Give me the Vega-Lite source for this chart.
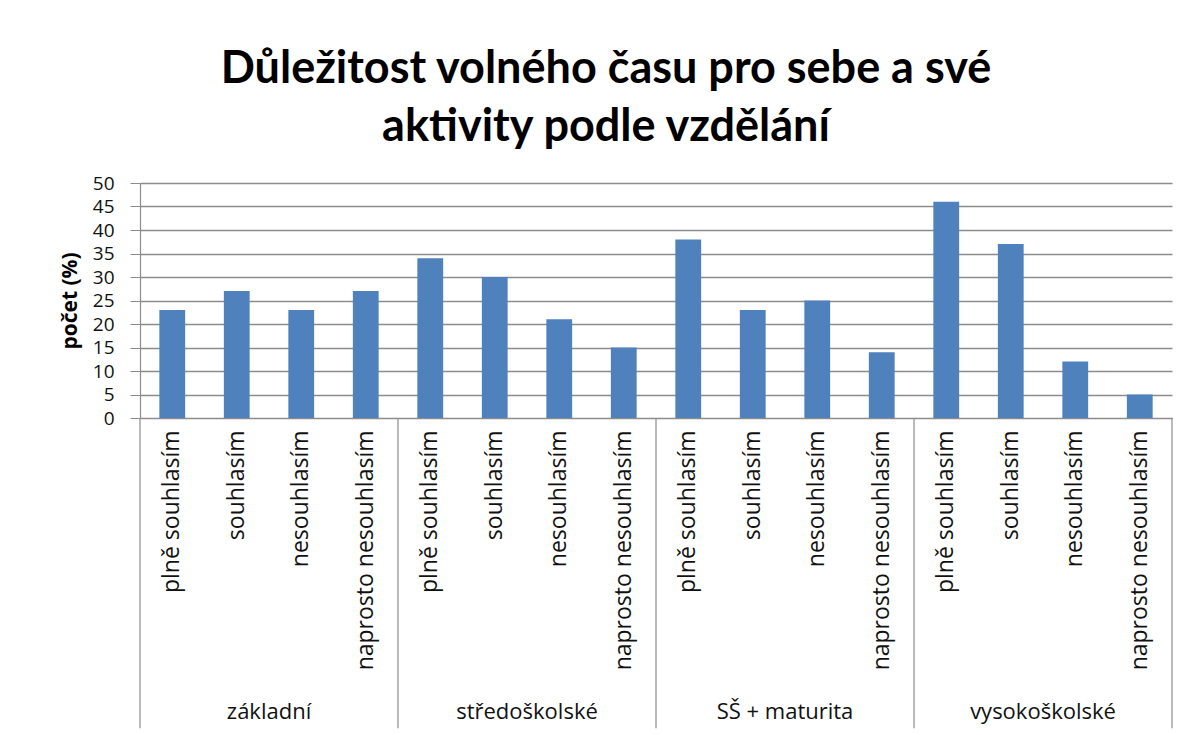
{
  "$schema": "https://vega.github.io/schema/vega-lite/v6.json",
  "width": 1032,
  "height": 235,
  "autosize": {"type": "none"},
  "padding": {"left": 140, "top": 183, "right": 18, "bottom": 317},
  "background": "white",
  "title": {
    "text": ["Důležitost volného času pro sebe a své", "aktivity podle vzdělání"],
    "font": "Lato",
    "fontSize": 45,
    "fontWeight": "bold",
    "lineHeight": 58,
    "color": "#000000",
    "anchor": "middle",
    "dx": -50,
    "offset": 24
  },
  "data": {
    "values": [
      {"key": "základní|plně souhlasím", "group": "základní", "cat": "plně souhlasím", "value": 23},
      {"key": "základní|souhlasím", "group": "základní", "cat": "souhlasím", "value": 27},
      {"key": "základní|nesouhlasím", "group": "základní", "cat": "nesouhlasím", "value": 23},
      {"key": "základní|naprosto nesouhlasím", "group": "základní", "cat": "naprosto nesouhlasím", "value": 27},
      {"key": "středoškolské|plně souhlasím", "group": "středoškolské", "cat": "plně souhlasím", "value": 34},
      {"key": "středoškolské|souhlasím", "group": "středoškolské", "cat": "souhlasím", "value": 30},
      {"key": "středoškolské|nesouhlasím", "group": "středoškolské", "cat": "nesouhlasím", "value": 21},
      {"key": "středoškolské|naprosto nesouhlasím", "group": "středoškolské", "cat": "naprosto nesouhlasím", "value": 15},
      {"key": "SŠ + maturita|plně souhlasím", "group": "SŠ + maturita", "cat": "plně souhlasím", "value": 38},
      {"key": "SŠ + maturita|souhlasím", "group": "SŠ + maturita", "cat": "souhlasím", "value": 23},
      {"key": "SŠ + maturita|nesouhlasím", "group": "SŠ + maturita", "cat": "nesouhlasím", "value": 25},
      {"key": "SŠ + maturita|naprosto nesouhlasím", "group": "SŠ + maturita", "cat": "naprosto nesouhlasím", "value": 14},
      {"key": "vysokoškolské|plně souhlasím", "group": "vysokoškolské", "cat": "plně souhlasím", "value": 46},
      {"key": "vysokoškolské|souhlasím", "group": "vysokoškolské", "cat": "souhlasím", "value": 37},
      {"key": "vysokoškolské|nesouhlasím", "group": "vysokoškolské", "cat": "nesouhlasím", "value": 12},
      {"key": "vysokoškolské|naprosto nesouhlasím", "group": "vysokoškolské", "cat": "naprosto nesouhlasím", "value": 5}
    ]
  },
  "encoding": {
    "x": {
      "field": "key",
      "type": "nominal",
      "sort": null,
      "scale": {"paddingInner": 0, "paddingOuter": 0},
      "axis": {
        "title": null,
        "labelAngle": -90,
        "labelExpr": "split(datum.label, '|')[1]",
        "labelFont": "Open Sans",
        "labelFontSize": 23,
        "labelColor": "#111111",
        "labelPadding": 12,
        "labelLimit": 320,
        "labelOverlap": false,
        "ticks": false,
        "domainColor": "#8c8c8c",
        "domainWidth": 1.2,
        "grid": false
      }
    }
  },
  "layer": [
    {
      "mark": {"type": "bar", "color": "#4f81bd", "width": {"band": 0.4}},
      "encoding": {
        "y": {
          "field": "value",
          "type": "quantitative",
          "scale": {"domain": [0, 50], "nice": false, "zero": true},
          "axis": {
            "title": "počet (%)",
            "titleFont": "Open Sans",
            "titleFontSize": 21,
            "titleFontWeight": "bold",
            "titleColor": "#000000",
            "titlePadding": 12,
            "values": [0, 5, 10, 15, 20, 25, 30, 35, 40, 45, 50],
            "labelOverlap": false,
            "labelBound": false,
            "labelFont": "Open Sans",
            "labelFontSize": 19,
            "labelColor": "#111111",
            "labelPadding": 16,
            "tickSize": 10,
            "tickColor": "#8c8c8c",
            "domainColor": "#8c8c8c",
            "domainWidth": 1.2,
            "gridColor": "#8c8c8c",
            "gridWidth": 1.3
          }
        }
      }
    },
    {
      "transform": [{"filter": "datum.cat == 'plně souhlasím'"}],
      "mark": {"type": "rule", "color": "#8c8c8c", "strokeWidth": 1.2, "clip": false},
      "encoding": {
        "x": {"field": "key", "type": "nominal", "sort": null, "bandPosition": 0},
        "y": {"datum": 0, "type": "quantitative", "scale": {"domain": [0, 50], "nice": false, "zero": true},
          "axis": {
            "title": "počet (%)",
            "titleFont": "Open Sans",
            "titleFontSize": 21,
            "titleFontWeight": "bold",
            "titleColor": "#000000",
            "titlePadding": 12,
            "values": [0, 5, 10, 15, 20, 25, 30, 35, 40, 45, 50],
            "labelOverlap": false,
            "labelBound": false,
            "labelFont": "Open Sans",
            "labelFontSize": 19,
            "labelColor": "#111111",
            "labelPadding": 16,
            "tickSize": 10,
            "tickColor": "#8c8c8c",
            "domainColor": "#8c8c8c",
            "domainWidth": 1.2,
            "gridColor": "#8c8c8c",
            "gridWidth": 1.3
          }},
        "y2": {"datum": -66}
      }
    },
    {
      "transform": [{"filter": "datum.cat == 'naprosto nesouhlasím' && datum.group == 'vysokoškolské'"}],
      "mark": {"type": "rule", "color": "#8c8c8c", "strokeWidth": 1.2, "clip": false},
      "encoding": {
        "x": {"field": "key", "type": "nominal", "sort": null, "bandPosition": 1},
        "y": {"datum": 0, "type": "quantitative", "scale": {"domain": [0, 50], "nice": false, "zero": true},
          "axis": {
            "title": "počet (%)",
            "titleFont": "Open Sans",
            "titleFontSize": 21,
            "titleFontWeight": "bold",
            "titleColor": "#000000",
            "titlePadding": 12,
            "values": [0, 5, 10, 15, 20, 25, 30, 35, 40, 45, 50],
            "labelOverlap": false,
            "labelBound": false,
            "labelFont": "Open Sans",
            "labelFontSize": 19,
            "labelColor": "#111111",
            "labelPadding": 16,
            "tickSize": 10,
            "tickColor": "#8c8c8c",
            "domainColor": "#8c8c8c",
            "domainWidth": 1.2,
            "gridColor": "#8c8c8c",
            "gridWidth": 1.3
          }},
        "y2": {"datum": -66}
      }
    },
    {
      "transform": [{"filter": "datum.cat == 'souhlasím'"}],
      "mark": {"type": "text", "font": "Open Sans", "fontSize": 22, "color": "#111111", "baseline": "middle", "align": "center", "clip": false},
      "encoding": {
        "x": {"field": "key", "type": "nominal", "sort": null, "bandPosition": 1},
        "y": {"datum": -62.5, "type": "quantitative", "scale": {"domain": [0, 50], "nice": false, "zero": true},
          "axis": {
            "title": "počet (%)",
            "titleFont": "Open Sans",
            "titleFontSize": 21,
            "titleFontWeight": "bold",
            "titleColor": "#000000",
            "titlePadding": 12,
            "values": [0, 5, 10, 15, 20, 25, 30, 35, 40, 45, 50],
            "labelOverlap": false,
            "labelBound": false,
            "labelFont": "Open Sans",
            "labelFontSize": 19,
            "labelColor": "#111111",
            "labelPadding": 16,
            "tickSize": 10,
            "tickColor": "#8c8c8c",
            "domainColor": "#8c8c8c",
            "domainWidth": 1.2,
            "gridColor": "#8c8c8c",
            "gridWidth": 1.3
          }},
        "text": {"field": "group"}
      }
    }
  ],
  "config": {"view": {"stroke": null}}
}
